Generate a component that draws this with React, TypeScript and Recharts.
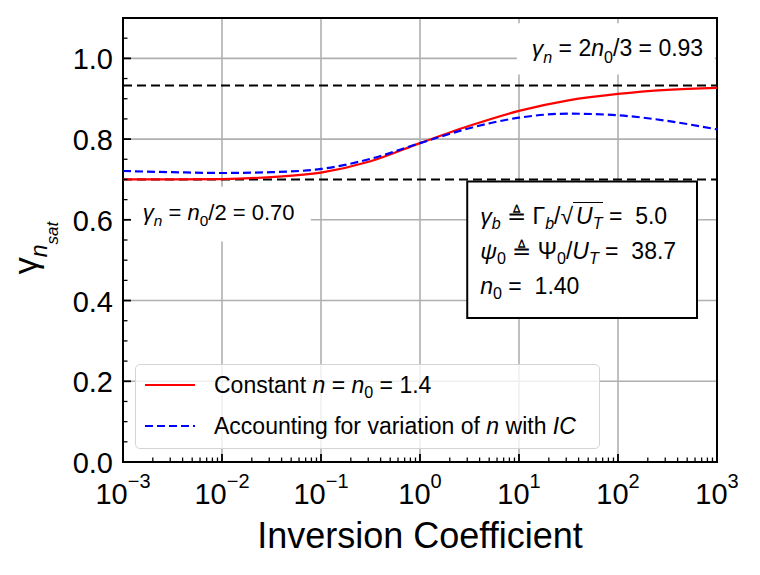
import { LineChart, Line, XAxis, YAxis, CartesianGrid, ReferenceLine, ReferenceArea, Legend } from 'recharts';

const FONT = '"Liberation Sans", Arial, Helvetica, sans-serif';

// inversion coefficient samples, half a decade apart
const IC = [0.001, 0.00316, 0.01, 0.0316, 0.1, 0.316, 1, 3.16, 10, 31.6, 100, 316, 1000];
// gamma_n_sat
const GAMMA_CONST_N = [0.7, 0.7, 0.701, 0.706, 0.717, 0.745, 0.79, 0.833, 0.87, 0.896, 0.912, 0.922, 0.927];
const GAMMA_VAR_N = [0.721, 0.718, 0.716, 0.718, 0.726, 0.751, 0.79, 0.827, 0.853, 0.863, 0.859, 0.845, 0.824];

// asymptotes: n0/2 and 2n0/3
const GAMMA_WI = 0.7;
const GAMMA_SI = 0.933;

const X_MAJOR = [0.001, 0.01, 0.1, 1, 10, 100, 1000];
const X_EXPONENTS = ['\u22123', '\u22122', '\u22121', '0', '1', '2', '3'];
const X_MINOR = X_MAJOR.slice(0, -1).flatMap((d) => [2, 3, 4, 5, 6, 7, 8, 9].map((m) => d * m));
const Y_MAJOR = [0, 0.2, 0.4, 0.6, 0.8, 1.0];
const Y_LABELS = ['0.0', '0.2', '0.4', '0.6', '0.8', '1.0'];
const Y_MINOR = [0.05, 0.1, 0.15, 0.25, 0.3, 0.35, 0.45, 0.5, 0.55, 0.65, 0.7, 0.75, 0.85, 0.9, 0.95, 1.05];

const X_DOMAIN: [number, number] = [0.001, 1000];
const Y_DOMAIN: [number, number] = [0, 1.1];

// annotation boxes, in data units
const WI_NOTE = { x1: 0.00112, x2: 0.079, y1: 0.546, y2: 0.682 };
const SI_NOTE = { x1: 9.5, x2: 950, y1: 0.96, y2: 1.087 };
const PARAM_BOX = { x1: 3.0, x2: 628, y1: 0.357, y2: 0.695 };

const chartData = IC.map((ic, i) => ({ ic, constN: GAMMA_CONST_N[i], varN: GAMMA_VAR_N[i] }));

type Part = { t: string; it?: boolean; sub?: boolean };

function mathSpans(parts: Part[], size: number) {
    let shift = 0;
    return parts.map((p, i) => {
        const target = p.sub ? size * 0.28 : 0;
        const dy = target - shift;
        shift = target;
        return (
            <tspan key={i} dy={dy} fontStyle={p.it ? 'italic' : 'normal'} fontSize={p.sub ? size * 0.7 : size}>
                {p.t}
            </tspan>
        );
    });
}

const WI_TEXT: Part[] = [
    { t: '\u03b3', it: true }, { t: 'n', it: true, sub: true }, { t: ' = ' },
    { t: 'n', it: true }, { t: '0', sub: true }, { t: '/2 = 0.70' },
];
const SI_TEXT: Part[] = [
    { t: '\u03b3', it: true }, { t: 'n', it: true, sub: true }, { t: ' = 2' },
    { t: 'n', it: true }, { t: '0', sub: true }, { t: '/3 = 0.93' },
];

function NoteLabel({ viewBox, parts, size }: { viewBox?: any; parts: Part[]; size: number }) {
    const x = (viewBox?.x ?? 0) + 15;
    const y = (viewBox?.y ?? 0) + 33;
    return (
        <text x={x} y={y} fontFamily={FONT} fill="#000" style={{ whiteSpace: 'pre' }}>
            {mathSpans(parts, size)}
        </text>
    );
}

const sub = { fontSize: '70%', verticalAlign: '-0.3em', lineHeight: 0 } as const;

function ParamLabel({ viewBox }: { viewBox?: any }) {
    const x = (viewBox?.x ?? 0) + 13;
    const y = (viewBox?.y ?? 0) + 18;
    return (
        <foreignObject x={x} y={y} width={(viewBox?.width ?? 0) - 15} height={(viewBox?.height ?? 0) - 20}>
            <div style={{ fontFamily: FONT, fontSize: 23, lineHeight: '35px', color: '#000', whiteSpace: 'pre' }}>
                <div>
                    <i>γ</i><span style={sub}><i>b</i></span> ≜ Γ<span style={sub}><i>b</i></span>/√<span style={{ borderTop: '1.5px solid #000', paddingLeft: 3 }}><i>U</i><span style={sub}><i>T</i></span></span> =  5.0
                </div>
                <div>
                    <i>ψ</i><span style={sub}>0</span> ≜ Ψ<span style={sub}>0</span>/<i>U</i><span style={sub}><i>T</i></span> =  38.7
                </div>
                <div>
                    <i>n</i><span style={sub}>0</span> =  1.40
                </div>
            </div>
        </foreignObject>
    );
}

function XTick({ x, y, payload }: any) {
    const v = payload.value;
    const k = X_MAJOR.findIndex((m) => Math.abs(m - v) / m < 1e-6);
    const major = k >= 0;
    return (
        <g>
            <line x1={x} x2={x} y1={y} y2={y - (major ? 8 : 4.5)} stroke="#000" strokeWidth={major ? 1.8 : 1.3} />
            {major && (
                <text x={x} y={y + 42} textAnchor="middle" fontFamily={FONT} fontSize={29} fill="#000">
                    10<tspan fontSize={20} dy={-16}>{X_EXPONENTS[k]}</tspan>
                </text>
            )}
        </g>
    );
}

function YTick({ x, y, payload }: any) {
    const v = payload.value;
    const k = Y_MAJOR.findIndex((m) => Math.abs(m - v) < 1e-6);
    const major = k >= 0;
    return (
        <g>
            <line x1={x} x2={x + (major ? 8 : 4.5)} y1={y} y2={y} stroke="#000" strokeWidth={major ? 1.8 : 1.3} />
            {major && (
                <text x={x - 10} y={y} dy={11} textAnchor="end" fontFamily={FONT} fontSize={29} fill="#000">
                    {Y_LABELS[k]}
                </text>
            )}
        </g>
    );
}

function XTitle({ viewBox }: { viewBox?: any }) {
    const cx = (viewBox?.x ?? 0) + (viewBox?.width ?? 0) / 2;
    return (
        <text x={cx} y={(viewBox?.y ?? 0) + 86} textAnchor="middle" fontFamily={FONT} fontSize={36} fill="#000">
            Inversion Coefficient
        </text>
    );
}

function YTitle({ viewBox }: { viewBox?: any }) {
    const cx = 37;
    const cy = (viewBox?.y ?? 0) + (viewBox?.height ?? 0) / 2 + 8;
    return (
        <text x={cx} y={cy} transform={`rotate(-90 ${cx} ${cy})`} textAnchor="middle" fontFamily={FONT} fill="#000">
            <tspan fontSize={34}>γ</tspan>
            <tspan fontSize={23} fontStyle="italic" dy={10}>n</tspan>
            <tspan fontSize={17} fontStyle="italic" dy={11}>sat</tspan>
        </text>
    );
}

const SERIES = [
    { key: 'constN', color: '#ff0000', dash: undefined, label: <>Constant <i>n</i> = <i>n</i><span style={sub}>0</span> = 1.4</> },
    { key: 'varN', color: '#0000ff', dash: '8 4', label: <>Accounting for variation of <i>n</i> with <i>IC</i></> },
];

function LegendBox() {
    return (
        <div
            style={{
                position: 'relative', width: 465, height: 85, boxSizing: 'border-box',
                border: '1.5px solid #d4d4d4', borderRadius: 5, background: 'rgba(255,255,255,0.8)',
                fontFamily: FONT, fontSize: 23, color: '#000',
            }}
        >
            {SERIES.map((s, i) => (
                <div key={s.key} style={{ position: 'absolute', left: 8, top: 5 + i * 41, height: 30, display: 'flex', alignItems: 'center', whiteSpace: 'nowrap' }}>
                    <svg width={52} height={10} style={{ display: 'block' }}>
                        <line x1={1} x2={51} y1={5} y2={5} stroke={s.color} strokeWidth={2.2} strokeDasharray={s.dash} />
                    </svg>
                    <span style={{ marginLeft: 18 }}>{s.label}</span>
                </div>
            ))}
        </div>
    );
}

export default function App() {
    return (
        <div style={{ margin: -8, width: 760, height: 575, background: '#fff' }}>
            <LineChart width={760} height={575} data={chartData} margin={{ top: 18, right: 43, left: 0, bottom: 0 }}>
                <XAxis xAxisId="grid" hide type="number" scale="log" dataKey="ic" domain={X_DOMAIN} ticks={X_MAJOR} allowDataOverflow />
                <YAxis yAxisId="grid" hide type="number" domain={Y_DOMAIN} ticks={Y_MAJOR} allowDataOverflow />
                <CartesianGrid xAxisId="grid" yAxisId="grid" stroke="#b0b0b0" strokeWidth={1.6} />

                <ReferenceArea {...WI_NOTE} fill="#fff" fillOpacity={1} stroke="none" label={<NoteLabel parts={WI_TEXT} size={22} />} />
                <ReferenceArea {...SI_NOTE} fill="#fff" fillOpacity={1} stroke="none" label={<NoteLabel parts={SI_TEXT} size={23} />} />

                <ReferenceLine y={GAMMA_SI} stroke="#000" strokeWidth={2} strokeDasharray="9 5" />
                <ReferenceLine y={GAMMA_WI} stroke="#000" strokeWidth={2} strokeDasharray="9 5" />

                <ReferenceArea {...PARAM_BOX} fill="#fff" fillOpacity={1} stroke="#000" strokeWidth={2} label={<ParamLabel />} />

                <Line type="monotone" dataKey="constN" name="Constant n = n0 = 1.4" stroke="#ff0000" strokeWidth={2.2} dot={false} isAnimationActive={false} />
                <Line type="monotone" dataKey="varN" name="Accounting for variation of n with IC" stroke="#0000ff" strokeWidth={2.2} strokeDasharray="8 4" dot={false} isAnimationActive={false} />

                <ReferenceArea x1={X_DOMAIN[0]} x2={X_DOMAIN[1]} y1={Y_DOMAIN[0]} y2={Y_DOMAIN[1]} fill="none" stroke="#000" strokeWidth={2} ifOverflow="visible" />

                <XAxis
                    type="number" scale="log" dataKey="ic" domain={X_DOMAIN} allowDataOverflow
                    ticks={[...X_MAJOR, ...X_MINOR]} interval={0} tick={<XTick />}
                    tickSize={0} tickMargin={0} tickLine={false} axisLine={false} height={113}
                    label={<XTitle />}
                />
                <YAxis
                    type="number" domain={Y_DOMAIN} allowDataOverflow
                    ticks={[...Y_MAJOR, ...Y_MINOR]} interval={0} tick={<YTick />}
                    tickSize={0} tickMargin={0} tickLine={false} axisLine={false} width={123}
                    label={<YTitle />}
                />

                <Legend
                    layout="vertical" align="center" verticalAlign="middle"
                    wrapperStyle={{ left: 135, top: 364, width: 465, height: 85 }}
                    content={() => <LegendBox />}
                />
            </LineChart>
        </div>
    );
}
